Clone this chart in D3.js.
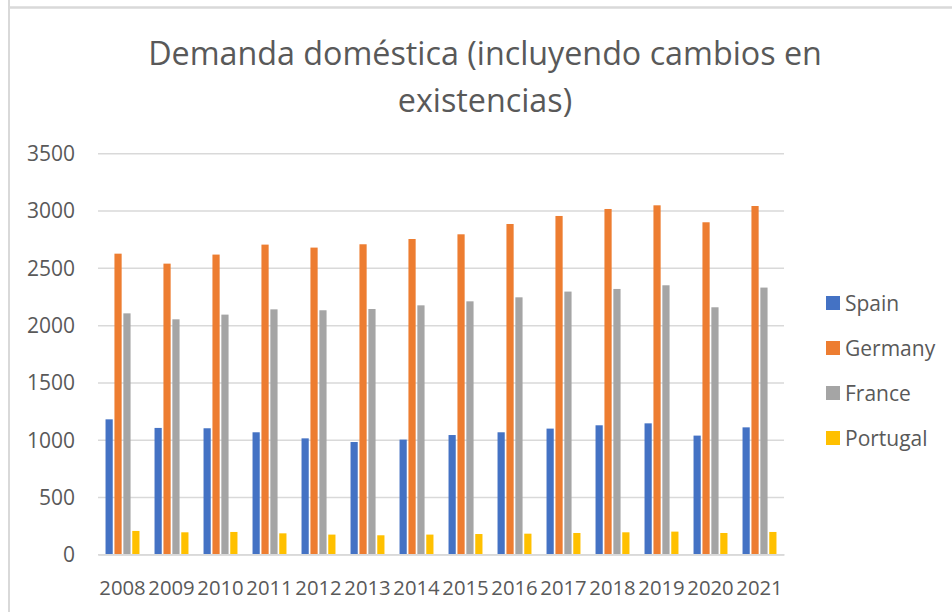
<!DOCTYPE html>
<html>
<head>
<meta charset="utf-8">
<script src="https://cdn.jsdelivr.net/npm/d3@7"></script>
<style>
    body { margin: 0; background: #fff; }
    svg { display: block; font-family: "Open Sans", sans-serif; }
</style>
</head>
<body>
<div id="chart"></div>
<script>
var years = ["2008", "2009", "2010", "2011", "2012", "2013", "2014", "2015", "2016", "2017", "2018", "2019", "2020", "2021"];
var seriesNames = ["Spain", "Germany", "France", "Portugal"];
var spain = [1178, 1103, 1100, 1065, 1012, 980, 1001, 1041, 1065, 1097, 1126, 1143, 1036, 1108];
var germany = [2624, 2537, 2616, 2703, 2677, 2706, 2752, 2793, 2883, 2953, 3014, 3046, 2898, 3040];
var france = [2103, 2051, 2092, 2138, 2130, 2141, 2173, 2208, 2243, 2293, 2316, 2348, 2156, 2328];
var portugal = [204, 192, 195, 183, 172, 166, 172, 177, 180, 186, 192, 198, 186, 195];
var yTicks = [0, 500, 1000, 1500, 2000, 2500, 3000, 3500];
var colors = ["#4472C4", "#ED7D31", "#A5A5A5", "#FFC000"];
var titleLines = ["Demanda doméstica (incluyendo cambios en", "existencias)"];

var W = 952, H = 612;
var margin = { top: 153.3, right: 168, bottom: 57.7, left: 98 },
    width = W - margin.left - margin.right,
    height = H - margin.top - margin.bottom;

var allSeries = [spain, germany, france, portugal];
var table = years.map(function(yr, i) {
    var row = { year: yr };
    seriesNames.forEach(function(name, j) { row[name] = allSeries[j][i]; });
    return row;
});

var svg = d3.select("#chart").append("svg")
    .attr("width", W)
    .attr("height", H);

// chart frame (cropped)
svg.append("line")
    .attr("x1", 9).attr("x2", 9).attr("y1", 0).attr("y2", H)
    .attr("stroke", "#d9d9d9").attr("stroke-width", 2);
svg.append("line")
    .attr("x1", 9).attr("x2", W).attr("y1", 7.5).attr("y2", 7.5)
    .attr("stroke", "#d9d9d9").attr("stroke-width", 2.5);

// title
var title = svg.append("text")
    .attr("text-anchor", "middle")
    .style("fill", "#595959")
    .style("font-size", "32px");
title.selectAll("tspan")
    .data(titleLines)
    .enter().append("tspan")
    .attr("x", 485)
    .attr("y", function(d, i) { return 65 + i * 47; })
    .text(function(d) { return d; });
var firstLen = title.select("tspan").node().getComputedTextLength();
title.style("font-size", (32 * 674 / firstLen) + "px");

var g = svg.append("g")
    .attr("transform", "translate(" + margin.left + "," + margin.top + ")");

var x = d3.scaleBand()
    .domain(years)
    .range([0, width])
    .paddingInner(0)
    .paddingOuter(0);

var x1 = d3.scaleBand()
    .domain(seriesNames)
    .range([0, x.bandwidth()])
    .paddingInner(0)
    .paddingOuter(0.75);

var y = d3.scaleLinear()
    .domain([0, 3500])
    .range([height, 0]);

var color = d3.scaleOrdinal()
    .domain(seriesNames)
    .range(colors);

// gridlines + y labels
var yAxis = d3.axisLeft(y)
    .tickValues(yTicks)
    .tickSize(-width)
    .tickPadding(23)
    .tickFormat(d3.format("d"));

var yg = g.append("g")
    .attr("class", "y axis")
    .call(yAxis);
yg.select(".domain").remove();
yg.selectAll(".tick line")
    .attr("stroke", "#d9d9d9")
    .attr("stroke-width", 1.5);
yg.selectAll(".tick text")
    .attr("dy", "7.4px")
    .style("fill", "#595959")
    .style("font-size", "21px")
    .style("font-family", "Open Sans");

// bars
var group = g.selectAll(".year")
    .data(table)
    .enter().append("g")
    .attr("class", "year")
    .attr("transform", function(d) { return "translate(" + x(d.year) + ",0)"; });

group.selectAll("rect")
    .data(function(d) { return seriesNames.map(function(name) { return { name: name, value: d[name] }; }); })
    .enter().append("rect")
    .attr("x", function(d) { return x1(d.name) + 0.85; })
    .attr("width", x1.bandwidth() - 1.7)
    .attr("y", function(d) { return y(d.value); })
    .attr("height", function(d) { return height - y(d.value); })
    .attr("fill", function(d) { return color(d.name); });

// x axis
var xAxis = d3.axisBottom(x)
    .tickSize(0)
    .tickPadding(26);

var xg = g.append("g")
    .attr("class", "x axis")
    .attr("transform", "translate(0," + height + ")")
    .call(xAxis);
xg.select(".domain")
    .attr("stroke", "#d9d9d9")
    .attr("stroke-width", 1.8);
xg.selectAll(".tick text")
    .style("fill", "#595959")
    .style("font-size", "20.3px")
    .style("font-family", "Open Sans");

// legend
var legend = svg.selectAll(".legend")
    .data(seriesNames)
    .enter().append("g")
    .attr("class", "legend")
    .attr("transform", function(d, i) { return "translate(826," + (303 + i * 45) + ")"; });

legend.append("rect")
    .attr("x", 0)
    .attr("y", -7)
    .attr("width", 14)
    .attr("height", 14)
    .attr("fill", function(d) { return color(d); });

legend.append("text")
    .attr("x", 19)
    .attr("y", 8.3)
    .style("fill", "#595959")
    .style("font-size", "21px")
    .text(function(d) { return d; });
</script>
</body>
</html>
